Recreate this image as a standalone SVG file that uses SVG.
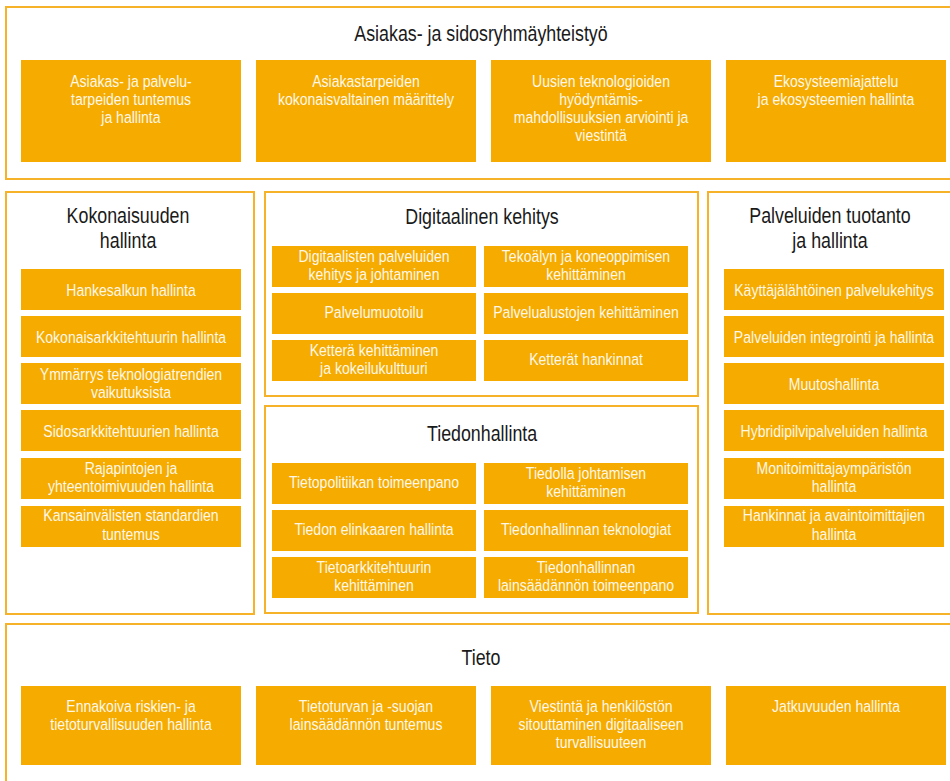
<svg xmlns="http://www.w3.org/2000/svg" width="950" height="781" viewBox="0 0 950 781">
<style>
.panel{fill:#fff;stroke:#F6B32A;stroke-width:2}
.box{fill:#F5AB00}
.h{font-family:"Liberation Sans",Arial,sans-serif;font-size:22px;fill:#1a1a1a;text-anchor:middle;transform-box:fill-box;transform-origin:center;transform:scaleX(0.81)}
.t{font-family:"Liberation Sans",Arial,sans-serif;font-size:17px;fill:#FFF8E8;text-anchor:middle;transform-box:fill-box;transform-origin:center;transform:scaleX(0.825)}
</style>
<rect width="950" height="781" fill="#fff"/>

<g id="panel-asiakas">
<rect class="panel" x="6" y="7" width="960" height="172"/>
<text class="h" x="481" y="41">Asiakas- ja sidosryhmäyhteistyö</text>
</g>
<g id="a1"><rect class="box" x="21" y="60" width="220" height="102"/>
<text class="t" x="131" y="87">Asiakas- ja palvelu-</text><text class="t" x="131" y="105">tarpeiden tuntemus</text><text class="t" x="131" y="123">ja hallinta</text></g>
<g id="a2"><rect class="box" x="256" y="60" width="220" height="102"/>
<text class="t" x="366" y="87">Asiakastarpeiden</text><text class="t" x="366" y="105">kokonaisvaltainen määrittely</text></g>
<g id="a3"><rect class="box" x="491" y="60" width="220" height="102"/>
<text class="t" x="601" y="87">Uusien teknologioiden</text><text class="t" x="601" y="105">hyödyntämis-</text><text class="t" x="601" y="123">mahdollisuuksien arviointi ja</text><text class="t" x="601" y="141">viestintä</text></g>
<g id="a4"><rect class="box" x="726" y="60" width="220" height="102"/>
<text class="t" x="836" y="87">Ekosysteemiajattelu</text><text class="t" x="836" y="105">ja ekosysteemien hallinta</text></g>

<g id="panel-kokonaisuus">
<rect class="panel" x="6" y="192" width="248" height="422"/>
<text class="h" x="128" y="223">Kokonaisuuden</text>
<text class="h" x="128" y="248">hallinta</text>
</g>
<g id="k1"><rect class="box" x="21" y="269" width="220" height="41"/><text class="t" x="131" y="296">Hankesalkun hallinta</text></g>
<g id="k2"><rect class="box" x="21" y="316" width="220" height="41"/><text class="t" x="131" y="343">Kokonaisarkkitehtuurin hallinta</text></g>
<g id="k3"><rect class="box" x="21" y="363" width="220" height="41"/><text class="t" x="131" y="380">Ymmärrys teknologiatrendien</text><text class="t" x="131" y="398">vaikutuksista</text></g>
<g id="k4"><rect class="box" x="21" y="410" width="220" height="41"/><text class="t" x="131" y="437">Sidosarkkitehtuurien hallinta</text></g>
<g id="k5"><rect class="box" x="21" y="458" width="220" height="41"/><text class="t" x="131" y="474">Rajapintojen ja</text><text class="t" x="131" y="492">yhteentoimivuuden hallinta</text></g>
<g id="k6"><rect class="box" x="21" y="506" width="220" height="41"/><text class="t" x="131" y="521">Kansainvälisten standardien</text><text class="t" x="131" y="540">tuntemus</text></g>

<g id="panel-digi">
<rect class="panel" x="265" y="192" width="433" height="204"/>
<text class="h" x="482" y="224">Digitaalinen kehitys</text>
</g>
<g id="d1"><rect class="box" x="272" y="246" width="204" height="41"/><text class="t" x="374" y="262">Digitaalisten palveluiden</text><text class="t" x="374" y="280">kehitys ja johtaminen</text></g>
<g id="d2"><rect class="box" x="484" y="246" width="204" height="41"/><text class="t" x="586" y="262">Tekoälyn ja koneoppimisen</text><text class="t" x="586" y="280">kehittäminen</text></g>
<g id="d3"><rect class="box" x="272" y="293" width="204" height="41"/><text class="t" x="374" y="318">Palvelumuotoilu</text></g>
<g id="d4"><rect class="box" x="484" y="293" width="204" height="41"/><text class="t" x="586" y="318">Palvelualustojen kehittäminen</text></g>
<g id="d5"><rect class="box" x="272" y="340" width="204" height="41"/><text class="t" x="374" y="356">Ketterä kehittäminen</text><text class="t" x="374" y="374">ja kokeilukulttuuri</text></g>
<g id="d6"><rect class="box" x="484" y="340" width="204" height="41"/><text class="t" x="586" y="365">Ketterät hankinnat</text></g>

<g id="panel-tiedon">
<rect class="panel" x="265" y="406" width="433" height="207"/>
<text class="h" x="482" y="441">Tiedonhallinta</text>
</g>
<g id="t1"><rect class="box" x="272" y="463" width="204" height="41"/><text class="t" x="374" y="488">Tietopolitiikan toimeenpano</text></g>
<g id="t2"><rect class="box" x="484" y="463" width="204" height="41"/><text class="t" x="586" y="479">Tiedolla johtamisen</text><text class="t" x="586" y="497">kehittäminen</text></g>
<g id="t3"><rect class="box" x="272" y="510" width="204" height="41"/><text class="t" x="374" y="535">Tiedon elinkaaren hallinta</text></g>
<g id="t4"><rect class="box" x="484" y="510" width="204" height="41"/><text class="t" x="586" y="535">Tiedonhallinnan teknologiat</text></g>
<g id="t5"><rect class="box" x="272" y="557" width="204" height="41"/><text class="t" x="374" y="573">Tietoarkkitehtuurin</text><text class="t" x="374" y="591">kehittäminen</text></g>
<g id="t6"><rect class="box" x="484" y="557" width="204" height="41"/><text class="t" x="586" y="573">Tiedonhallinnan</text><text class="t" x="586" y="591">lainsäädännön toimeenpano</text></g>

<g id="panel-palvelut">
<rect class="panel" x="708" y="192" width="260" height="422"/>
<text class="h" x="830" y="223">Palveluiden tuotanto</text>
<text class="h" x="830" y="248">ja hallinta</text>
</g>
<g id="p1"><rect class="box" x="724" y="269" width="220" height="41"/><text class="t" x="834" y="296">Käyttäjälähtöinen palvelukehitys</text></g>
<g id="p2"><rect class="box" x="724" y="316" width="220" height="41"/><text class="t" x="834" y="343">Palveluiden integrointi ja hallinta</text></g>
<g id="p3"><rect class="box" x="724" y="363" width="220" height="41"/><text class="t" x="834" y="390">Muutoshallinta</text></g>
<g id="p4"><rect class="box" x="724" y="410" width="220" height="41"/><text class="t" x="834" y="437">Hybridipilvipalveluiden hallinta</text></g>
<g id="p5"><rect class="box" x="724" y="458" width="220" height="41"/><text class="t" x="834" y="474">Monitoimittajaympäristön</text><text class="t" x="834" y="492">hallinta</text></g>
<g id="p6"><rect class="box" x="724" y="506" width="220" height="41"/><text class="t" x="834" y="521">Hankinnat ja avaintoimittajien</text><text class="t" x="834" y="540">hallinta</text></g>

<g id="panel-tieto">
<rect class="panel" x="6" y="624" width="960" height="180"/>
<text class="h" x="481" y="665">Tieto</text>
</g>
<g id="b1"><rect class="box" x="21" y="686" width="220" height="79"/>
<text class="t" x="131" y="712">Ennakoiva riskien- ja</text><text class="t" x="131" y="730">tietoturvallisuuden hallinta</text></g>
<g id="b2"><rect class="box" x="256" y="686" width="220" height="79"/>
<text class="t" x="366" y="712">Tietoturvan ja -suojan</text><text class="t" x="366" y="730">lainsäädännön tuntemus</text></g>
<g id="b3"><rect class="box" x="491" y="686" width="220" height="79"/>
<text class="t" x="601" y="712">Viestintä ja henkilöstön</text><text class="t" x="601" y="730">sitouttaminen digitaaliseen</text><text class="t" x="601" y="748">turvallisuuteen</text></g>
<g id="b4"><rect class="box" x="726" y="686" width="220" height="79"/>
<text class="t" x="836" y="712">Jatkuvuuden hallinta</text></g>

<g id="connectors"/>
</svg>
